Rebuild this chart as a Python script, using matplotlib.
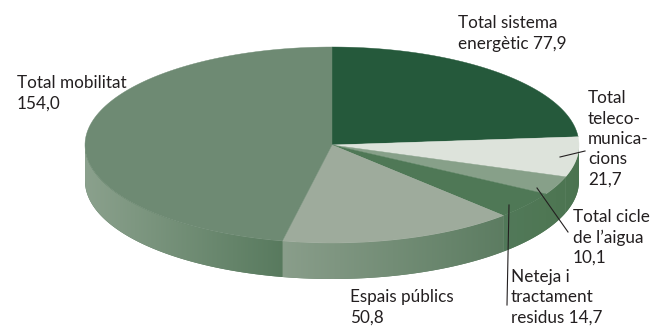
import numpy as np
import matplotlib.pyplot as plt
from matplotlib.colors import to_rgb

# inversió per àmbit (valors en l'ordre del gràfic, a partir de les 12 en sentit horari)
categories = ["Total sistema\nenergètic {}",
              "Total\nteleco-\nmunica-\ncions\n{}",
              "Total cicle\nde l’aigua\n{}",
              "Neteja i\ntractament\nresidus {}",
              "Espais públics\n{}",
              "Total mobilitat\n{}"]
values = [77.9, 21.7, 10.1, 14.7, 50.8, 154.0]

top_colors = ["#25593b", "#dde3db", "#87a089", "#4f7856", "#9eab9c", "#6e8a73"]
side_colors = [("#3f6a48", "#4a7350"), ("#4d7552", "#4a7350"), ("#4f7754", "#4d7552"),
               ("#52795a", "#4f7754"), ("#8a9e8b", "#5c7c61"), ("#8ba18d", "#587a5e")]

# posicions de les etiquetes (x, línia base de la primera línia) i línies guia
label_pos = [(458, 28), (588, 103), (573, 222), (511, 282), (350, 302), (17, 88)]
leaders = [None, ((560, 157), (585, 151)), ((537, 188), (568, 232)),
           ((509, 205), (507, 305)), None, None]

cx, cy, rx, ry, depth = 332, 145, 247, 98, 36

fig = plt.figure(figsize=(6.5, 3.3), dpi=100)
ax = fig.add_axes([0, 0, 1, 1])
ax.set_xlim(0, 650)
ax.set_ylim(330, 0)
ax.axis("off")


def pt(theta):
    return cx + rx * np.cos(theta), cy - ry * np.sin(theta)


vals = np.array(values)
angles = 90 - np.concatenate([[0], np.cumsum(vals)]) / vals.sum() * 360

# parets laterals (només la meitat frontal és visible), amb degradat horitzontal
for i in range(len(vals)):
    a0, a1 = angles[i], angles[i + 1]
    lo, hi = max(a1, -180), min(a0, 0)
    if lo >= hi:
        continue
    th = np.radians(np.linspace(hi, lo, 100))
    xs, ys = pt(th)
    side = np.column_stack([np.r_[xs, xs[::-1]], np.r_[ys, ys[::-1] + depth]])
    c0, c1 = np.array(to_rgb(side_colors[i][0])), np.array(to_rgb(side_colors[i][1]))
    # el degradat va d'esquerra a dreta
    x_left, x_right = xs.min(), xs.max()
    t = np.linspace(0, 1, 256)[None, :, None]
    grad = c0 + (c1 - c0) * t
    outline = plt.Polygon(side, closed=True, facecolor=c1, edgecolor="none")
    ax.add_patch(outline)
    im = ax.imshow(grad, extent=(x_left - 1, x_right + 1, ys.max() + depth + 1, ys.min() - 1),
                   aspect="auto", interpolation="bilinear", zorder=1)
    im.set_clip_path(outline)

# cara superior
for i in range(len(vals)):
    th = np.radians(np.linspace(angles[i], angles[i + 1], 120))
    xs, ys = pt(th)
    poly = np.column_stack([np.r_[cx, xs], np.r_[cy, ys]])
    ax.add_patch(plt.Polygon(poly, closed=True, facecolor=top_colors[i],
                             edgecolor=top_colors[i], linewidth=0.3, zorder=2))

ax.set_xlim(0, 650)
ax.set_ylim(330, 0)

# etiquetes
lh = 20.5
for i, (tmpl, v) in enumerate(zip(categories, values)):
    text = tmpl.format(f"{v:.1f}".replace(".", ","))
    x, y = label_pos[i]
    for j, line in enumerate(text.split("\n")):
        ax.text(x, y + j * lh, line, fontsize=12.3, family=["Lato", "DejaVu Sans"],
                color="#231f20", va="baseline", ha="left", zorder=4)
    if leaders[i]:
        (xa, ya), (xb, yb) = leaders[i]
        ax.plot([xa, xb], [ya, yb], color="#231f20", lw=0.8, zorder=3)

fig.savefig("out.png", dpi=100)
